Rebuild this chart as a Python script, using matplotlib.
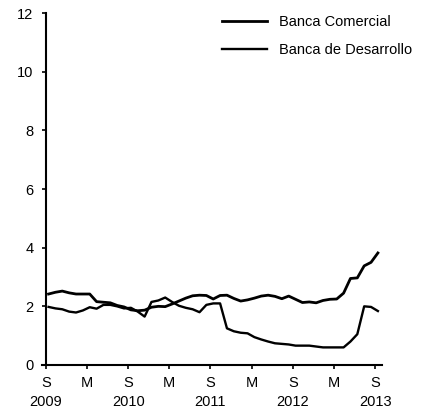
import numpy as np
import matplotlib.pyplot as plt

plt.rcParams['font.family'] = ['Liberation Sans', 'DejaVu Sans']

# monthly values, Sep 2009 .. Sep 2013
comercial = [2.42, 2.48, 2.52, 2.46, 2.42, 2.42, 2.42, 2.16, 2.14, 2.12,
             2.03, 1.98, 1.88, 1.85, 1.87, 1.97, 2.00, 1.99, 2.08, 2.18,
             2.28, 2.36, 2.38, 2.37, 2.25, 2.37, 2.38, 2.27, 2.18, 2.22,
             2.28, 2.35, 2.38, 2.34, 2.26, 2.35, 2.24, 2.13, 2.15, 2.12,
             2.20, 2.24, 2.25, 2.45, 2.95, 2.97, 3.38, 3.50, 3.82]
desarrollo = [1.98, 1.93, 1.90, 1.82, 1.79, 1.86, 1.97, 1.92, 2.05, 2.05,
              2.00, 1.93, 1.95, 1.82, 1.65, 2.15, 2.20, 2.30, 2.15, 2.02,
              1.95, 1.90, 1.80, 2.05, 2.10, 2.10, 1.25, 1.15, 1.10, 1.08,
              0.95, 0.87, 0.80, 0.74, 0.72, 0.70, 0.66, 0.66, 0.66, 0.63,
              0.60, 0.60, 0.60, 0.60, 0.80, 1.05, 2.00, 1.98, 1.84]
tick_labels = ['S\n2009', 'M', 'S\n2010', 'M', 'S\n2011', 'M', 'S\n2012', 'M', 'S\n2013']

x = np.arange(len(comercial)) + 0.4

fig = plt.figure(figsize=(4.3, 4.15), dpi=100)
ax = fig.add_axes([0.097, 0.1205, 0.7914, 0.848])

ax.plot(x, comercial, color='black', lw=2.0, label='Banca Comercial')
ax.plot(x, desarrollo, color='black', lw=1.7, label='Banca de Desarrollo')

ax.set_xlim(-0.6, 49)
ax.set_ylim(0, 12)
ax.set_xticks(np.arange(0, 49, 6))
ax.set_xticklabels(tick_labels, linespacing=1.4)
ax.set_yticks(np.arange(0, 13, 2))

ax.spines['left'].set_position(('data', 0))
ax.spines['top'].set_visible(False)
ax.spines['right'].set_visible(False)
ax.spines['left'].set_linewidth(1.5)
ax.spines['bottom'].set_linewidth(1.5)
ax.tick_params(axis='both', direction='out', length=3, width=1.2, labelsize=10.5)
ax.tick_params(axis='y', pad=6)
ax.tick_params(axis='x', pad=5)

fig.legend(loc='upper left', bbox_to_anchor=(0.485, 0.995), frameon=False,
           handlelength=3.1, handletextpad=0.8, labelspacing=0.95, fontsize=10.5)

fig.savefig('out.png', dpi=100)
